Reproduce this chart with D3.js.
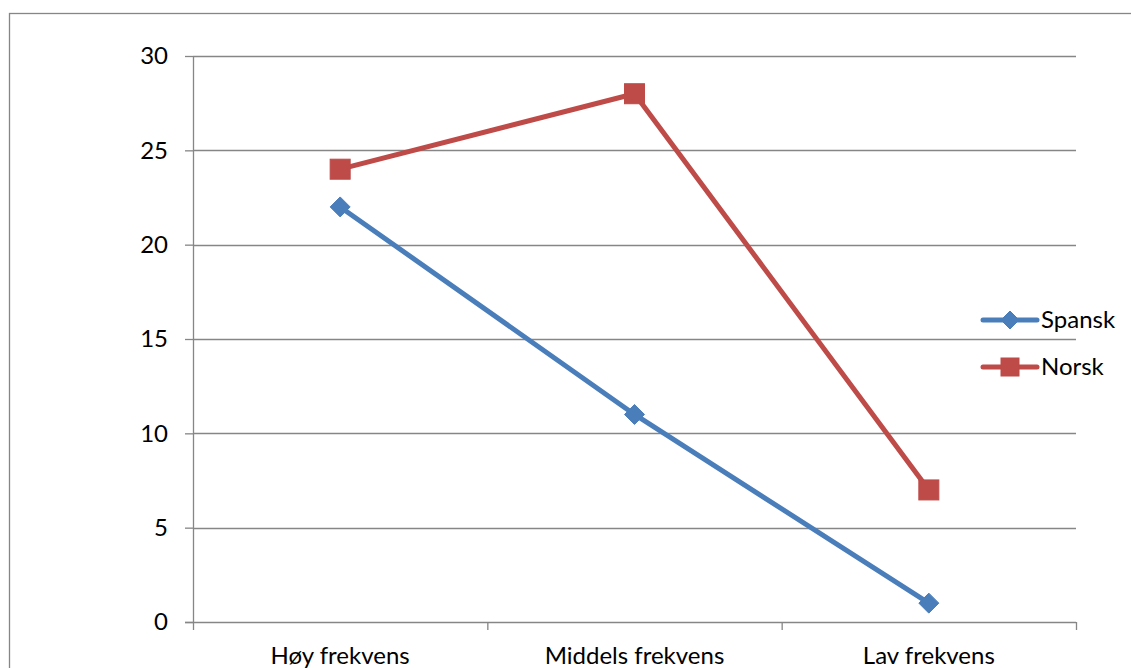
<!DOCTYPE html>
<html>
<head>
<meta charset="utf-8">
<script src="https://cdn.jsdelivr.net/npm/d3@7"></script>
<style>
  html, body { margin: 0; padding: 0; background: #fff; }
  svg { display: block; font-family: Lato, "Open Sans", sans-serif; }
</style>
</head>
<body>
<svg id="chart" width="1131" height="668"></svg>
<script>
// Frequency groups and counts per language
const categories = ["Høy frekvens", "Middels frekvens", "Lav frekvens"];
const spansk = [22, 11, 1];
const norsk = [24, 28, 7];
const yTicks = [0, 5, 10, 15, 20, 25, 30];

const series = [
  { name: "Spansk", values: spansk, color: "#4A7EBB", marker: "diamond" },
  { name: "Norsk", values: norsk, color: "#BE4B48", marker: "square" }
];

const svg = d3.select("#chart");
const gridColor = "#868686";
const fontSize = 24;

// Outer chart frame
svg.append("rect")
  .attr("x", 9.5).attr("y", 13.5)
  .attr("width", 1140).attr("height", 700)
  .attr("fill", "none").attr("stroke", gridColor).attr("stroke-width", 1.3);

const plot = { left: 193, right: 1076, top: 56, bottom: 622 };

const x = d3.scaleBand().domain(categories).range([plot.left, plot.right]);
const y = d3.scaleLinear().domain([0, 30]).range([plot.bottom, plot.top]);

// Value axis with small left ticks
const yAxis = d3.axisLeft(y).tickValues(yTicks).tickSize(8).tickPadding(17);
const gy = svg.append("g").attr("transform", `translate(${plot.left},0)`).call(yAxis);
gy.select(".domain").attr("stroke", gridColor).attr("stroke-width", 1.3)
  .attr("d", `M0.5,${plot.top}V${plot.bottom}`);
gy.selectAll(".tick line").attr("stroke", gridColor).attr("stroke-width", 1.3);
gy.selectAll(".tick text").attr("font-size", fontSize).attr("fill", "#000")
  .attr("font-family", "Lato, sans-serif");

// Horizontal gridlines
svg.append("g").selectAll("line")
  .data(yTicks.filter(d => d > 0))
  .join("line")
  .attr("x1", plot.left).attr("x2", plot.right)
  .attr("y1", d => Math.round(y(d)) + 0.5).attr("y2", d => Math.round(y(d)) + 0.5)
  .attr("stroke", gridColor).attr("stroke-width", 1.3);

// Category axis along the zero line
const xAxis = d3.axisBottom(x).tickSize(0).tickPadding(25);
const gx = svg.append("g").attr("transform", `translate(0,${plot.bottom})`).call(xAxis);
gx.select(".domain").remove();
gx.selectAll(".tick text").attr("font-size", fontSize).attr("fill", "#000")
  .attr("font-family", "Lato, sans-serif");

svg.append("line")
  .attr("x1", plot.left - 8).attr("x2", plot.right)
  .attr("y1", plot.bottom + 0.5).attr("y2", plot.bottom + 0.5)
  .attr("stroke", gridColor).attr("stroke-width", 1.3);

const bounds = categories.map(c => x(c)).concat([plot.right]);
svg.append("g").selectAll("line")
  .data(bounds)
  .join("line")
  .attr("x1", d => d + 0.5).attr("x2", d => d + 0.5)
  .attr("y1", plot.bottom).attr("y2", plot.bottom + 8)
  .attr("stroke", gridColor).attr("stroke-width", 1.3);

const cx = c => x(c) + x.bandwidth() / 2;
const line = d3.line().x(d => cx(d.cat)).y(d => y(d.v));

function drawMarker(g, type, color, r) {
  if (type === "diamond") {
    g.append("path").attr("d", `M0,${-r}L${r},0L0,${r}L${-r},0Z`)
      .attr("fill", color).attr("stroke", color).attr("stroke-width", 1);
  } else {
    g.append("rect").attr("x", -r).attr("y", -r).attr("width", 2 * r).attr("height", 2 * r)
      .attr("fill", color).attr("stroke", color).attr("stroke-width", 1);
  }
}

series.forEach(s => {
  const pts = categories.map((c, i) => ({ cat: c, v: s.values[i] }));
  svg.append("path").datum(pts)
    .attr("d", line).attr("fill", "none")
    .attr("stroke", s.color).attr("stroke-width", 5)
    .attr("stroke-linejoin", "round");
  pts.forEach(p => {
    const g = svg.append("g").attr("transform", `translate(${cx(p.cat)},${y(p.v)})`);
    drawMarker(g, s.marker, s.color, 10);
  });
});

// Legend
const legendY = [320, 367];
series.forEach((s, i) => {
  const g = svg.append("g").attr("transform", `translate(0,${legendY[i]})`);
  g.append("line").attr("x1", 983).attr("x2", 1037).attr("y1", 0).attr("y2", 0)
    .attr("stroke", s.color).attr("stroke-width", 5).attr("stroke-linecap", "round");
  const m = g.append("g").attr("transform", "translate(1010,0)");
  drawMarker(m, s.marker, s.color, 9);
  g.append("text").attr("x", 1041).attr("y", 0).attr("dy", "0.35em")
    .attr("font-size", fontSize).attr("fill", "#000").text(s.name);
});
</script>
</body>
</html>
